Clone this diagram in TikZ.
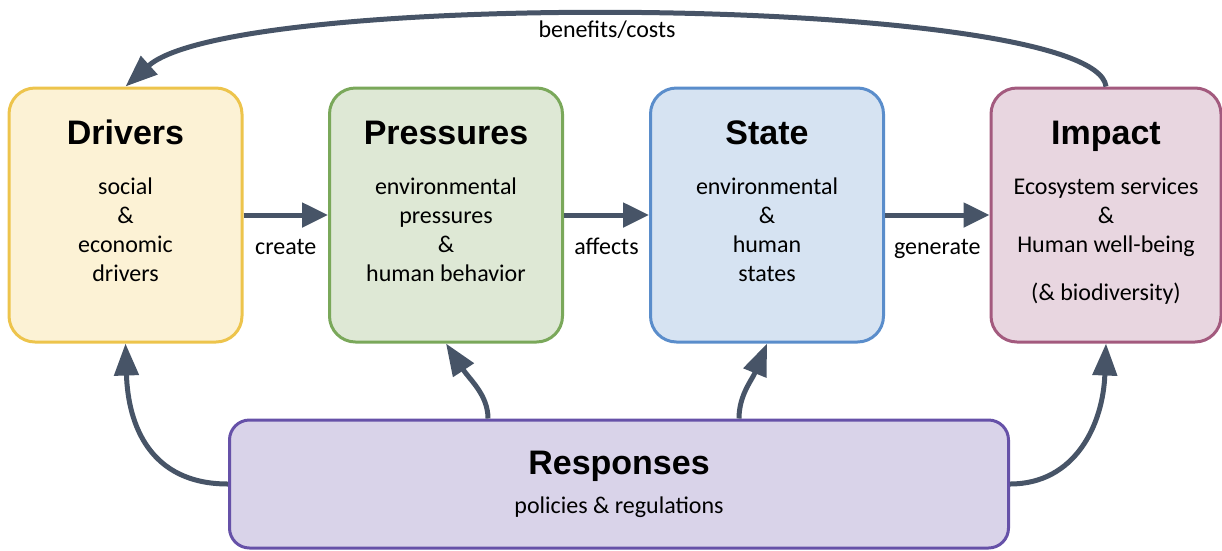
\documentclass[tikz,border=0pt]{standalone}
\usepackage{fontspec}
\setmainfont{Carlito}
\newfontfamily\headfont{Liberation Sans}
\usetikzlibrary{arrows.meta}
\definecolor{drvfill}{HTML}{FCF2D5}
\definecolor{drvline}{HTML}{EDC44C}
\definecolor{prsfill}{HTML}{DEE8D5}
\definecolor{prsline}{HTML}{7AA85A}
\definecolor{stafill}{HTML}{D6E3F2}
\definecolor{staline}{HTML}{5A8DCB}
\definecolor{impfill}{HTML}{E8D6E0}
\definecolor{impline}{HTML}{A35A7E}
\definecolor{resfill}{HTML}{D9D3E9}
\definecolor{resline}{HTML}{6651A8}
\definecolor{arrowcol}{HTML}{475467}
\begin{document}
\begin{tikzpicture}[x=1pt, y=-1pt, line join=round, font=\fontsize{24}{29}\selectfont,
    >={Triangle[length=32pt,width=24pt]},
    box/.style={draw, line width=3pt, rounded corners=26pt, minimum width=233pt, minimum height=254pt, inner sep=0pt},
    head/.style={font=\headfont\bfseries\fontsize{34}{40}\selectfont, anchor=base, inner sep=0pt},
    body/.style={align=center, anchor=north, inner sep=0pt},
    flow/.style={->, draw=arrowcol, line width=5pt},
    lbl/.style={midway, anchor=base, yshift=-39pt, inner sep=0pt, text=black}]
	\useasboundingbox (0,0) rectangle (1222,550);
	% the four boxes of the chain
	\node[box, fill=drvfill, draw=drvline] (drivers) at (125.5,215) {};
	\node[box, fill=prsfill, draw=prsline] (pressures) at (446,215) {};
	\node[box, fill=stafill, draw=staline] (state) at (767,215) {};
	\node[box, fill=impfill, draw=impline, minimum width=230pt] (impact) at (1106,215) {};
	\node[box, fill=resfill, draw=resline, minimum width=779pt, minimum height=128pt, rounded corners=20pt] (resp) at (619,484) {};
	\node[head] (drivers-t) at (125.5,144) {Drivers};
	\node[head] (pressures-t) at (446,144) {Pressures};
	\node[head] (state-t) at (767,144) {State};
	\node[head] (impact-t) at (1106,144) {Impact};
	\node[head] (resp-t) at (619,474) {Responses};
	\node[body] (drivers-b) at (125.5,178) {social\\\&\\economic\\drivers};
	\node[body] (pressures-b) at (446,178) {environmental\\pressures\\\&\\human behavior};
	\node[body] (state-b) at (767,178) {environmental\\\&\\human\\states};
	\node[body] (impact-b) at (1106,178) {Ecosystem services\\\&\\Human well-being\\[19pt](\& biodiversity)};
	\node[body] (resp-b) at (619,497) {policies \& regulations};
	% arrows
	\foreach \a/\b/\t in {drivers/pressures/create, pressures/state/affects, state/impact/generate}
		\draw[flow, >={Triangle[length=26pt,width=24pt]}] (\a) -- (\b) node[lbl] {\t};
	\draw[flow] (impact.north) .. controls (1095,-5) and (235,-12) .. (drivers.north);
	\node (costs) at (607,30) {benefits/costs};
	\draw[flow] (resp.west) .. controls (150,484) and (128,425) .. (drivers.south);
	\draw[flow] ([xshift=-131pt]resp.north) .. controls (488,395) and (470,380) .. (pressures.south);
	\draw[flow] ([xshift=120pt]resp.north) .. controls (739,395) and (752,380) .. (state.south);
	\draw[flow] (resp.east) .. controls (1075,484) and (1103,425) .. (impact.south);
\end{tikzpicture}
\end{document}
